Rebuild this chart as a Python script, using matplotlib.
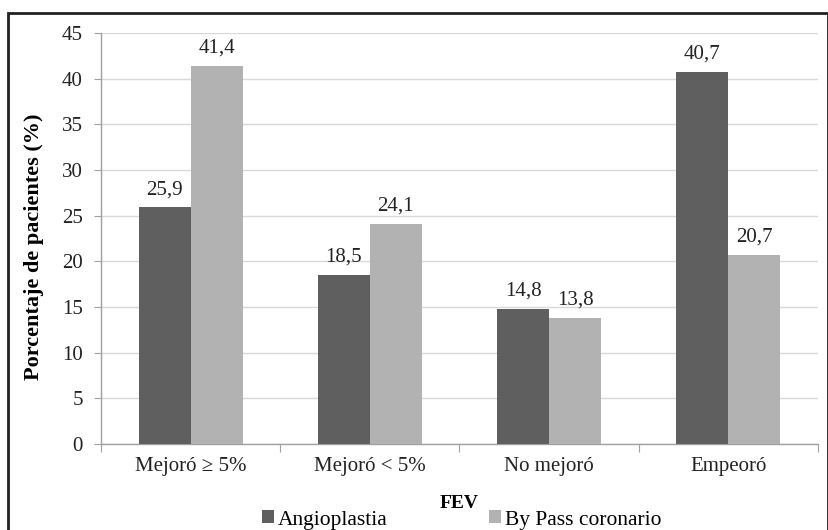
import matplotlib
matplotlib.use("Agg")
import matplotlib.pyplot as plt
import numpy as np
from matplotlib.patches import Rectangle

categories = ["Mejoró ≥ 5%", "Mejoró < 5%", "No mejoró", "Empeoró"]
angioplastia = [25.9, 18.5, 14.8, 40.7]
bypass = [41.4, 24.1, 13.8, 20.7]
series_names = ["Angioplastia", "By Pass coronario"]
yticks = [0, 5, 10, 15, 20, 25, 30, 35, 40, 45]

plt.rcParams['font.family'] = ['Liberation Serif', 'DejaVu Serif']

fig = plt.figure(figsize=(8.29, 5.30), dpi=100)
ax = fig.add_axes([101/829, 1-444/530, (818-101)/829, (444-33)/530])

x = np.arange(len(categories))
w = 0.29
c1, c2 = "#5f5f5f", "#b2b2b2"
b1 = ax.bar(x - w/2, angioplastia, w, color=c1, label=series_names[0], zorder=3)
b2 = ax.bar(x + w/2, bypass, w, color=c2, label=series_names[1], zorder=3)

def fmt(v):
    return f"{v:.1f}".replace(".", ",")

for bars, vals in ((b1, angioplastia), (b2, bypass)):
    for r, v in zip(bars, vals):
        ax.annotate(fmt(v), (r.get_x() + r.get_width()/2, v), xytext=(0, 6),
                    textcoords="offset points", ha="center", va="bottom",
                    fontsize=15, color="#222222")

ax.set_xlim(-0.5, len(categories) - 0.5)
ax.set_ylim(0, 45)
ax.set_yticks(yticks)
ax.set_yticklabels([str(t) for t in yticks], fontsize=15, color="#222222")
ax.yaxis.grid(True, color="#d9d9d9", linewidth=1, zorder=0)
ax.set_axisbelow(True)

ax.set_xticks(np.arange(-0.5, len(categories)), minor=False)
ax.set_xticklabels([])
ax.set_xticks(x, minor=True)
ax.set_xticklabels(categories, minor=True, fontsize=15, color="#222222")
ax.tick_params(axis="x", which="major", length=6, color="#a0a0a0", direction="out")
ax.tick_params(axis="x", which="minor", length=0, pad=9)
ax.tick_params(axis="y", length=5, color="#a0a0a0", direction="out", pad=8)

for s in ("top", "right"):
    ax.spines[s].set_visible(False)
for s in ("left", "bottom"):
    ax.spines[s].set_color("#a0a0a0")
    ax.spines[s].set_linewidth(1)

ax.set_ylabel("Porcentaje de pacientes (%)", fontsize=16, fontweight="bold")
ax.yaxis.set_label_coords((44-101)/717, 0.48)
fig.text(459.5/829, 1-503/530, "FEV", ha="center", va="center", fontsize=14, fontweight="bold")

leg = fig.legend(handles=[b1, b2], loc="center left", bbox_to_anchor=(262/829, 1-520/530), ncol=2,
                 frameon=False, fontsize=15.5, handlelength=0.55, handleheight=0.55,
                 handletextpad=0.2, columnspacing=4.7, borderpad=0, borderaxespad=0)

fig.patches.append(Rectangle((8/829, -0.01), (828-8)/829, 1-13/530 + 0.01,
                             transform=fig.transFigure, fill=False,
                             edgecolor="#222222", linewidth=2))

fig.savefig("out.png", dpi=100)
